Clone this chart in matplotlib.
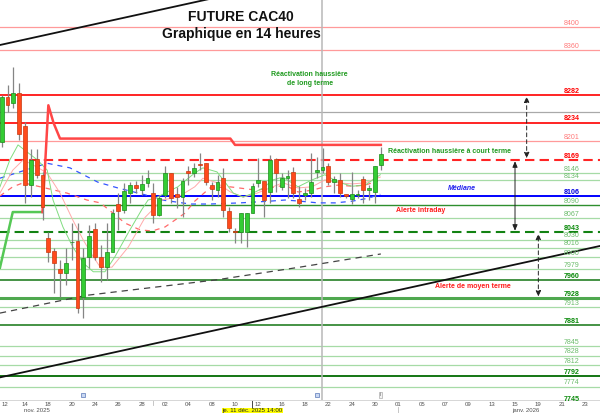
import matplotlib
matplotlib.use("Agg")
import matplotlib.pyplot as plt
from matplotlib.transforms import blended_transform_factory

plt.rcParams['font.family'] = ['Liberation Sans', 'DejaVu Sans']

# ---------------- data ----------------
# 14-hour candles (bar index 0..65)
opens  = [8200, 8278, 8268, 8285, 8228, 8125, 8170, 8142, 8033, 8010, 7979, 7972, 8025, 8027, 7930, 8000,
          8048, 8000, 7982, 8008, 8092, 8082, 8111, 8125, 8116, 8129, 8111, 8073, 8108, 8146, 8110, 8104,
          8149, 8146, 8162, 8163, 8125, 8116, 8137, 8080, 8045, 8043, 8043, 8076, 8129, 8132, 8113, 8170,
          8122, 8137, 8148, 8101, 8108, 8111, 8148, 8151, 8158, 8130, 8134, 8109, 8101, 8108, 8136, 8116,
          8113, 8160]
highs  = [8282, 8299, 8331, 8303, 8235, 8188, 8188, 8148, 8043, 8015, 7994, 8015, 8059, 8059, 8015, 8055,
          8059, 8021, 8059, 8083, 8111, 8129, 8130, 8132, 8143, 8151, 8129, 8108, 8158, 8146, 8122, 8137,
          8158, 8163, 8181, 8163, 8130, 8143, 8155, 8087, 8050, 8076, 8076, 8129, 8172, 8132, 8177, 8172,
          8146, 8151, 8156, 8123, 8120, 8181, 8174, 8190, 8163, 8141, 8146, 8110, 8148, 8116, 8141, 8125,
          8158, 8191]
lows   = [8191, 8252, 8259, 8204, 8094, 8104, 8137, 8064, 7991, 7937, 7930, 7951, 7994, 7902, 7893, 7981,
          7994, 7956, 7960, 8008, 8047, 8076, 8094, 8111, 8108, 8122, 8059, 8071, 8102, 8094, 8085, 8069,
          8125, 8139, 8151, 8125, 8099, 8104, 8069, 8043, 8024, 8024, 8017, 8076, 8122, 8069, 8094, 8113,
          8116, 8102, 8102, 8087, 8099, 8104, 8137, 8146, 8125, 8111, 8104, 8102, 8092, 8102, 8094, 8099,
          8094, 8151]
closes = [8278, 8264, 8285, 8214, 8125, 8169, 8142, 8087, 8008, 7989, 7972, 7989, 8026, 7911, 7998, 8036,
          8000, 7982, 8008, 8076, 8080, 8115, 8125, 8120, 8127, 8137, 8073, 8102, 8146, 8102, 8104, 8132,
          8146, 8155, 8160, 8130, 8118, 8130, 8082, 8050, 8043, 8076, 8076, 8123, 8134, 8099, 8169, 8146,
          8137, 8141, 8111, 8094, 8111, 8130, 8151, 8156, 8130, 8136, 8111, 8106, 8109, 8109, 8116, 8120,
          8158, 8179]

# x-axis labels (every 4 bars = 2 trading days)
tick_labels = ["12", "14", "18", "20", "24", "26", "28", "02", "04", "08", "10", "12", "16",
               "18", "22", "24", "30", "01", "05", "07", "09", "13", "15", "19", "21", "23"]
month_labels = ["nov. 2025", "janv. 2026"]
month_pos = [6.1, 89.9]

# horizontal levels
level_values = [8400, 8360, 8282, 8234, 8201, 8169, 8146, 8134, 8106, 8090, 8067, 8043, 8030,
                8016, 8000, 7979, 7960, 7928, 7913, 7881, 7845, 7828, 7812, 7792, 7774, 7745]
level_kind = ['rl', 'rl', 'r', 'r', 'rl', 'rd', 'gl', 'gl', 'b', 'gm', 'gl', 'gd', 'gl',
              'gl', 'gl', 'gl', 'g', 'gt', 'gl', 'g', 'gl', 'gl', 'gl', 'g2', 'gl', 'g']
grey_level = 8253

# indicator lines (bar position, price)
fast_x = [-0.3, 1.4, 2.8, 4.3, 6.1, 7.8, 8.8, 10.5, 12.2, 14.0, 15.7, 17.7, 19.4, 21.7, 24.0, 25.1, 26.3,
          28.0, 30.2, 32.0, 33.1, 34.5, 36.9, 38.0, 39.7, 41.4, 43.1, 44.8, 46.5, 48.2, 50.8, 53.2, 55.4,
          57.7, 60.1, 62.3, 64.9]
fast_v = [8122, 8169, 8195, 8183, 8169, 8151, 8099, 8052, 8017, 7989, 7974, 7974, 8000, 8042, 8082, 8099,
          8102, 8111, 8122, 8137, 8146, 8155, 8148, 8134, 8111, 8104, 8111, 8120, 8134, 8139, 8122, 8134,
          8143, 8130, 8123, 8125, 8143]
pink_x = [-0.3, 1.9, 3.7, 6.1, 7.8, 10.0, 12.2, 14.0, 15.7, 16.9, 18.9, 21.7, 24.6, 27.5, 30.2, 33.1,
          34.5, 36.9, 39.2, 41.4, 43.8, 46.0, 48.2, 50.8, 53.2, 55.4, 57.7, 60.1, 62.3, 64.9]
pink_v = [8111, 8151, 8169, 8156, 8146, 8111, 8064, 8029, 8000, 7982, 7982, 8017, 8069, 8099, 8104, 8122,
          8137, 8129, 8113, 8104, 8111, 8120, 8129, 8120, 8122, 8134, 8129, 8127, 8129, 8139]
rdash_x = [-0.3, 1.9, 3.7, 6.6, 11.2, 14.6, 16.9, 19.1, 21.1, 23.7, 25.8, 28.0, 29.7, 31.4, 33.1, 35.7,
           39.1, 43.8, 48.6, 50.8, 53.2, 55.4, 57.7, 60.1, 62.3, 64.5]
rdash_v = [8106, 8122, 8129, 8122, 8111, 8099, 8094, 8076, 8059, 8047, 8045, 8052, 8064, 8076, 8097, 8120,
           8122, 8116, 8125, 8113, 8116, 8122, 8125, 8123, 8125, 8132]
bdash_x = [-0.3, 7.8, 11.7, 16.5, 19.9, 24.6, 27.5, 32.3, 35.7, 40.9, 46.0, 48.6, 51.1, 54.2, 57.2, 60.1,
           62.8, 64.9]
bdash_v = [8137, 8163, 8155, 8130, 8120, 8108, 8099, 8092, 8092, 8094, 8097, 8099, 8097, 8094, 8094, 8097,
           8102, 8109]
kdash_x = [-0.3, 14.6, 36.9, 51.1, 65.0]
kdash_v = [7902, 7933, 7960, 7982, 8005]
st_up_x = [-0.3, 1.9, 7.0]
st_up_v = [7981, 8078, 8078]
st_dn_x = [7.0, 8.0, 8.9, 10.0, 39.2, 40.0, 65.0]
st_dn_v = [8078, 8264, 8233, 8206, 8206, 8195, 8195]
tl_up_x, tl_up_v = [-0.3, 40.0], [8369, 8459]
tl_lo_x, tl_lo_v = [-0.3, 102.6], [7790, 8019]
now_bar = 54.9

# ---------------- styles ----------------
STY = {
    'rl': dict(c='#ff9a9a', lw=0.9, ls='-', tc='#ff7a7a', bold=False),
    'r':  dict(c='#ff2424', lw=1.4, ls='-', tc='#ff0000', bold=True),
    'rd': dict(c='#ff2424', lw=1.5, ls='--', tc='#ff0000', bold=True),
    'gl': dict(c='#a6dba6', lw=0.9, ls='-', tc='#6cbc6c', bold=False),
    'gm': dict(c='#2f8f2f', lw=1.0, ls='-', tc='#6cbc6c', bold=False),
    'g':  dict(c='#137513', lw=1.1, ls='-', tc='#0a8a0a', bold=True),
    'g2': dict(c='#137513', lw=1.4, ls='-', tc='#0a8a0a', bold=True),
    'gd': dict(c='#128212', lw=1.5, ls='--', tc='#0a8a0a', bold=True),
    'gt': dict(c='#4fa84f', lw=2.2, ls='-', tc='#0a8a0a', bold=True),
    'b':  dict(c='#0000ff', lw=1.4, ls='-', tc='#0000e0', bold=True),
}

fig = plt.figure(figsize=(6.0, 4.13), dpi=100)
ax = fig.add_axes([0, 13 / 413, 1, 400 / 413])
ax.set_xlim(-0.29, 102.57)
ax.set_ylim(7750.6, 8447.4)
for s in ['top', 'right', 'left']:
    ax.spines[s].set_visible(False)
ax.spines['bottom'].set_color('#d6d6d6')
ax.spines['bottom'].set_linewidth(0.7)
ax.set_yticks([])
ax.set_xticks(range(0, 4 * len(tick_labels), 4))
ax.set_xticklabels(tick_labels)
ax.tick_params(axis='x', length=0, pad=1.2, labelsize=4.3, labelcolor='#505050')
ax.get_xticklabels()[0].set_horizontalalignment('left')

bt = blended_transform_factory(ax.transAxes, ax.transData)
xt = blended_transform_factory(ax.transData, ax.transAxes)

# levels
for v, k in zip(level_values, level_kind):
    s = STY[k]
    if s['ls'] == '--':
        ax.axhline(v, color=s['c'], lw=s['lw'], dashes=(4.5, 2.5), zorder=2)
    else:
        ax.axhline(v, color=s['c'], lw=s['lw'], zorder=2)
    ax.annotate(str(v), xy=(0.953, v), xycoords=bt, xytext=(0, 1.6), textcoords='offset points',
                ha='center', va='baseline', fontsize=5.1, color=s['tc'],
                fontweight='bold' if s['bold'] else 'normal', annotation_clip=False, zorder=6)
ax.axhline(grey_level, color='#a9a9a9', lw=0.9, zorder=2)

# vertical "now" line
ax.axvline(now_bar, color='#b8b8b8', lw=1.1, zorder=2)

# trend lines
ax.plot(tl_up_x, tl_up_v, color='#111111', lw=1.3, zorder=3)
ax.plot(tl_lo_x, tl_lo_v, color='#111111', lw=1.3, zorder=3)

# indicators
ax.plot(kdash_x, kdash_v, color='#444444', lw=0.9, dashes=(5, 4), zorder=3)
ax.plot(bdash_x, bdash_v, color='#3355ff', lw=0.9, dashes=(4, 4), zorder=3)
ax.plot(rdash_x, rdash_v, color='#ff6a6a', lw=0.9, dashes=(4, 4), zorder=3)
ax.plot(pink_x, pink_v, color='#ffaaaa', lw=0.7, zorder=3)
ax.plot(fast_x, fast_v, color='#80dd80', lw=0.7, zorder=3)
ax.plot(st_up_x, st_up_v, color='#55c855', lw=1.8, zorder=3)
ax.plot(st_dn_x, st_dn_v, color='#ff4646', lw=1.8, zorder=3)

# candles
xs = list(range(len(opens)))
ax.vlines(xs, lows, highs, color='#858585', lw=0.9, zorder=4)
bodies_b = [min(o, c) for o, c in zip(opens, closes)]
bodies_h = [max(abs(c - o), 1.4) for o, c in zip(opens, closes)]
fc = ['#33cc33' if c >= o else '#ff4a1c' for o, c in zip(opens, closes)]
ec = ['#1a8a1a' if c >= o else '#c8380f' for o, c in zip(opens, closes)]
ax.bar(xs, bodies_h, bottom=bodies_b, width=0.66, color=fc, edgecolor=ec, linewidth=0.5, zorder=5)

# arrows
def darrow(x, y1, y2, dashed):
    ax.annotate('', xy=(x, y1), xytext=(x, y2),
                arrowprops=dict(arrowstyle='<|-|>,head_length=0.35,head_width=0.15',
                                color='#222222', lw=0.7, linestyle=(0, (4, 3)) if dashed else '-',
                                shrinkA=1, shrinkB=1), zorder=6)
darrow(90, 8282, 8169, True)
darrow(88, 8169, 8043, False)
darrow(92, 8043, 7928, True)

# texts
ax.text(0.4017, 0.957, 'FUTURE CAC40', transform=ax.transAxes, ha='center', va='center',
        fontsize=10, fontweight='bold', color='#111111', zorder=7)
ax.text(0.4017, 0.915, 'Graphique en 14 heures', transform=ax.transAxes, ha='center', va='center',
        fontsize=10, fontweight='bold', color='#111111', zorder=7)
ax.text(0.516, 0.8025, 'Réactivation haussière\nde long terme', transform=ax.transAxes, ha='center',
        va='center', fontsize=5, fontweight='bold', color='#1f9a1f', linespacing=1.25, zorder=7)
ax.text(0.75, 0.621, 'Réactivation haussière à court terme', transform=ax.transAxes, ha='center',
        va='center', fontsize=5, fontweight='bold', color='#1f9a1f', zorder=7)
ax.text(0.77, 0.5275, 'Médiane', transform=ax.transAxes, ha='center', va='center', fontsize=5,
        fontweight='bold', fontstyle='italic', color='#2020ee', zorder=7)
ax.text(0.7017, 0.475, 'Alerte intraday', transform=ax.transAxes, ha='center', va='center',
        fontsize=5, fontweight='bold', color='#ff1a1a', zorder=7)
ax.text(0.788, 0.285, 'Alerte de moyen terme', transform=ax.transAxes, ha='center', va='center',
        fontsize=5, fontweight='bold', color='#ff1a1a', zorder=7)

# month labels and bottom decorations
for lab, p in zip(month_labels, month_pos):
    ax.text(p, -0.026, lab, transform=xt, ha='center', va='center', fontsize=4.3, color='#505050',
            clip_on=False)
for p, y0, y1 in [(26.0, -0.0, -0.012), (67.9, -0.018, -0.032)]:
    ax.plot([p, p], [y0, y1], transform=xt, color='#bdbdbd', lw=0.6, clip_on=False)
ax.plot([42.9, 42.9], [0.0, -0.02], transform=xt, color='#444444', lw=0.7, clip_on=False)
ax.text(43.0, -0.027, 'je. 11 déc. 2025 14:00', transform=xt, ha='center', va='center', fontsize=4.4,
        color='#222222', clip_on=False,
        bbox=dict(boxstyle='square,pad=0.12', fc='#ffff00', ec='none'), zorder=8)
for p in [14.0, 54.1]:
    ax.plot([p], [0.0125], transform=xt, marker='s', ms=3.2, mfc='#c9d8f2', mec='#5a78b8', mew=0.5,
            clip_on=False, zorder=7)
ax.text(64.9, 0.0125, 'i', transform=xt, ha='center', va='center', fontsize=3.5, color='#555555',
        bbox=dict(boxstyle='square,pad=0.2', fc='#f2f2f2', ec='#9a9a9a', lw=0.4), zorder=7)

fig.savefig('out.png', dpi=100)
